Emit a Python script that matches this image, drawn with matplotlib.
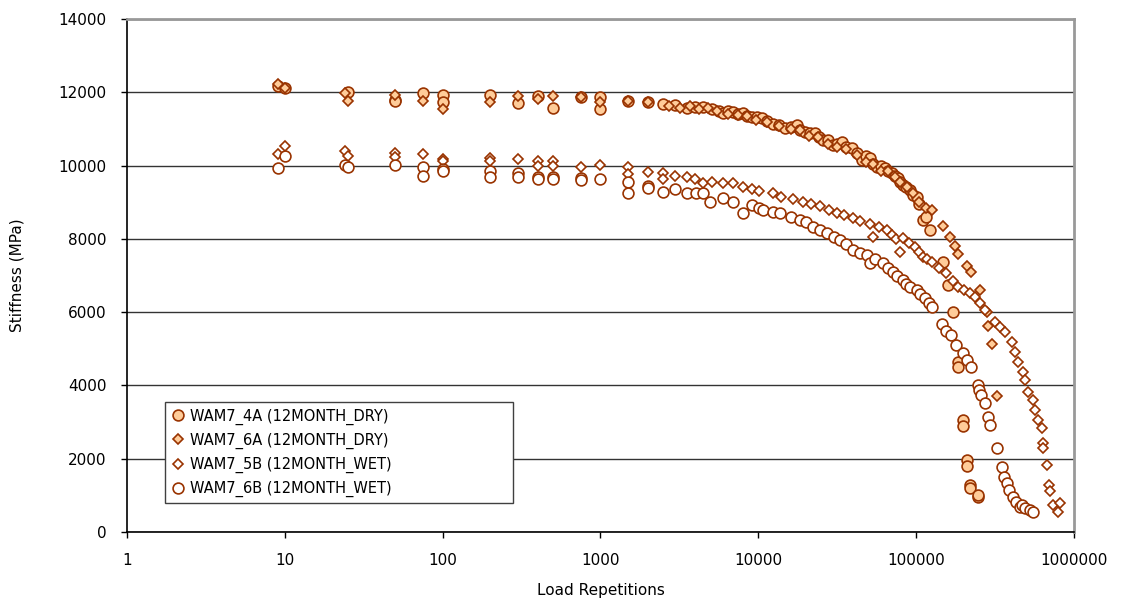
import matplotlib
matplotlib.use("Agg")
import matplotlib.pyplot as plt
from matplotlib.ticker import NullLocator

# ---- data ----
x_4a = [9, 10, 25, 50, 50, 75, 100, 100, 200, 300,
        400, 500, 750, 1000, 1000, 1500, 2000,
        2480, 2950, 3520, 3950, 4440, 5070, 5600, 5960, 6400, 6890,
        7400, 7950, 8500, 9080, 9800, 10500, 11400, 12300, 13500, 14700,
        16000, 17500, 18500, 19700, 21200, 22800, 24200, 25600, 27500, 29600,
        31500, 33700, 36000, 39000, 42000, 45200, 48000, 50800, 53500, 56300,
        60000, 63100, 66500, 70000, 73000, 76400, 79000, 82200, 86000, 91000,
        95000, 100700, 105000, 110000, 115000, 121600,
        147000, 158000, 172000, 183000, 185000, 197000, 198000, 209000, 210000, 218000,
        220000, 245000, 246000]
y_4a = [12170, 12120, 12010, 11790, 11760, 11980, 11930, 11740, 11930, 11710,
        11900, 11570, 11870, 11870, 11540, 11760, 11740,
        11680, 11650, 11570, 11600, 11600, 11540, 11500, 11430, 11480, 11460,
        11400, 11430, 11350, 11330, 11320, 11300, 11220, 11130, 11100, 11030,
        11060, 11110, 10980, 10920, 10900, 10890, 10780, 10700, 10690, 10560,
        10580, 10640, 10500, 10480, 10350, 10150, 10250, 10210, 10050, 9960,
        9980, 9930, 9850, 9800, 9720, 9660, 9550, 9470, 9420, 9330,
        9200, 9140, 8950, 8510, 8600, 8240,
        7370, 6740, 6000, 4640, 4500, 3060, 2900, 1960, 1800, 1280,
        1200, 950, 1000]

x_6a = [9, 10, 24, 25, 50, 75, 100, 200, 300, 400,
        500, 750, 1000, 1500, 2000,
        2700, 3200, 3700, 4200, 4800, 5500, 6400, 7400, 8500, 9700,
        11400, 13500, 16000, 18500, 21000, 24000, 27500, 31500, 36000, 42000,
        48000, 53000, 60000, 66000, 73000, 79000, 87000, 95000, 105000, 115000,
        126000, 147000, 163000, 175000, 185000, 209000, 221000, 252000, 280000, 284000,
        301000, 324000]
y_6a = [12230, 12120, 11980, 11760, 11930, 11760, 11540, 11740, 11900, 11820,
        11900, 11870, 11740, 11760, 11740,
        11620, 11560, 11620, 11540, 11560, 11480, 11400, 11380, 11360, 11240,
        11200, 11080, 11000, 10960, 10820, 10780, 10600, 10520, 10440, 10300,
        10100, 10050, 9850, 9860, 9700, 9560, 9420, 9250, 9000, 8850,
        8790, 8350, 8050, 7800, 7600, 7260, 7100, 6600, 6000, 5620,
        5130, 3710]

x_5b = [9, 10, 24, 25, 50, 50, 75, 100, 100, 200,
        200, 300, 400, 400, 500, 500, 750, 1000, 1500, 1500,
        2000,
        2480, 2480, 2950, 3520, 3950, 4440, 5070, 5960, 6890, 7950,
        9080, 10100, 12300, 14000, 16500, 19100, 21500, 24500, 28000, 31400,
        35000, 39600, 44000, 50800, 53100, 58000, 65000, 70000, 75000, 78700,
        82200, 90000, 97800, 104000, 110000, 118000, 126000, 140000, 155000, 170000,
        185000, 200000, 218000, 235000, 252000, 275000, 314000, 338000, 363000, 403000,
        421000, 440000, 472000, 486000, 508000, 547000, 563000, 589000, 624000, 632000,
        635000, 670000, 690000, 700000, 733000, 787000, 811000]
y_5b = [10320, 10530, 10400, 10260, 10340, 10230, 10320, 10180, 10120, 10210,
        10120, 10180, 10120, 9990, 10120, 9990, 9960, 10020, 9960, 9770,
        9820,
        9800, 9630, 9720, 9690, 9630, 9520, 9550, 9520, 9520, 9420,
        9360, 9310, 9250, 9150, 9080, 9010, 8950, 8900, 8800, 8710,
        8650, 8570, 8480, 8410, 8050, 8320, 8240, 8100, 8000, 7640,
        8020, 7880, 7780, 7650, 7500, 7450, 7370, 7200, 7070, 6850,
        6690, 6600, 6520, 6400, 6250, 6060, 5730, 5600, 5460, 5190,
        4910, 4640, 4370, 4150, 3820, 3600, 3330, 3060, 2840, 2430,
        2290, 1830, 1280, 1120, 740, 550, 790]

x_6b = [9, 10, 24, 25, 50, 75, 75, 100, 100, 200,
        200, 300, 300, 400, 400, 500, 500, 750, 750, 1000,
        1500, 1500, 2000, 2000,
        2480, 2950, 3520, 4040, 4440, 4920, 5960, 6890, 7950, 9080,
        10100, 10700, 12300, 13700, 16000, 18300, 20000, 22100, 24500, 27100,
        30000, 32800, 36000, 39600, 44000, 48600, 50800, 55000, 61400, 66000,
        71000, 76000, 82200, 86000, 91000, 100700, 106000, 113000, 120000, 126000,
        145000, 155000, 167000, 178000, 197000, 210000, 224000, 245000, 250000, 258000,
        272000, 284000, 292000, 324000, 348000, 360000, 374000, 390000, 408000, 430000,
        452000, 470000, 486000, 524000, 547000]
y_6b = [9940, 10260, 10020, 9960, 10020, 9960, 9720, 9910, 9850, 9850,
        9690, 9800, 9690, 9690, 9640, 9690, 9640, 9660, 9600, 9630,
        9550, 9250, 9440, 9400,
        9280, 9360, 9250, 9250, 9250, 9010, 9110, 9000, 8700, 8920,
        8840, 8790, 8730, 8710, 8600, 8520, 8450, 8320, 8250, 8160,
        8050, 7970, 7850, 7700, 7620, 7560, 7340, 7450, 7340, 7200,
        7100, 7000, 6880, 6780, 6690, 6600, 6500, 6390, 6250, 6140,
        5680, 5490, 5380, 5100, 4880, 4700, 4500, 4010, 3880, 3740,
        3520, 3140, 2920, 2290, 1770, 1500, 1340, 1150, 950, 820,
        680, 740, 650, 600, 550]

labels = ["WAM7_4A (12MONTH_DRY)", "WAM7_6A (12MONTH_DRY)",
          "WAM7_5B (12MONTH_WET)", "WAM7_6B (12MONTH_WET)"]
x_ticks = [1, 10, 100, 1000, 10000, 100000, 1000000]
x_tick_labels = ["1", "10", "100", "1000", "10000", "100000", "1000000"]
y_ticks = [0, 2000, 4000, 6000, 8000, 10000, 12000, 14000]

EDGE = "#993300"
FILL = "#FFCC99"

plt.rcParams["font.family"] = ["DejaVu Sans"]

fig = plt.figure(figsize=(11.24, 6.04), dpi=100)
ax = fig.add_axes([0.113, 0.1192, 0.8425, 0.8493])

# marker, size, face colour per series (Excel style orange/brown)
series = [
    (x_4a, y_4a, "o", 7.8, FILL),
    (x_6a, y_6a, "D", 5.5, FILL),
    (x_5b, y_5b, "D", 5.5, "white"),
    (x_6b, y_6b, "o", 7.8, "white"),
]
for (xs, ys, mk, ms, fc), lab in zip(series, labels):
    ax.plot(xs, ys, ls="none", marker=mk, ms=ms, mfc=fc, mec=EDGE, mew=1.2,
            label=lab, zorder=3)

ax.set_xscale("log")
ax.set_xlim(1, 1e6)
ax.set_ylim(0, 14000)
ax.set_xticks(x_ticks)
ax.set_xticklabels(x_tick_labels)
ax.xaxis.set_minor_locator(NullLocator())
ax.set_yticks(y_ticks)

ax.tick_params(axis="x", direction="out", length=4, width=1, pad=11, labelsize=11)
ax.tick_params(axis="y", direction="out", length=4.5, width=1, pad=10, labelsize=11)

ax.set_axisbelow(True)
ax.yaxis.grid(True, color="#333333", lw=1)
ax.xaxis.grid(False)

for side in ("left", "bottom"):
    ax.spines[side].set_color("black")
    ax.spines[side].set_linewidth(1.2)
for side in ("top", "right"):
    ax.spines[side].set_color("#999999")
    ax.spines[side].set_linewidth(2)

ax.set_xlabel("Load Repetitions", fontsize=11)
ax.xaxis.set_label_coords(0.5, -0.099)
ax.set_ylabel("Stiffness (MPa)", fontsize=11)
ax.yaxis.set_label_coords(-0.108, 0.5)

leg = ax.legend(loc="lower left", bbox_to_anchor=(0.040, 0.0565, 0.3676, 0.2066),
                mode="expand", borderaxespad=0, fontsize=10.5, numpoints=1,
                handlelength=1.0, handletextpad=0.3, labelspacing=0.55,
                borderpad=0.4, fancybox=False, framealpha=1)
leg.get_frame().set_edgecolor("#404040")
leg.get_frame().set_linewidth(1)

fig.savefig("out.png", dpi=100)
